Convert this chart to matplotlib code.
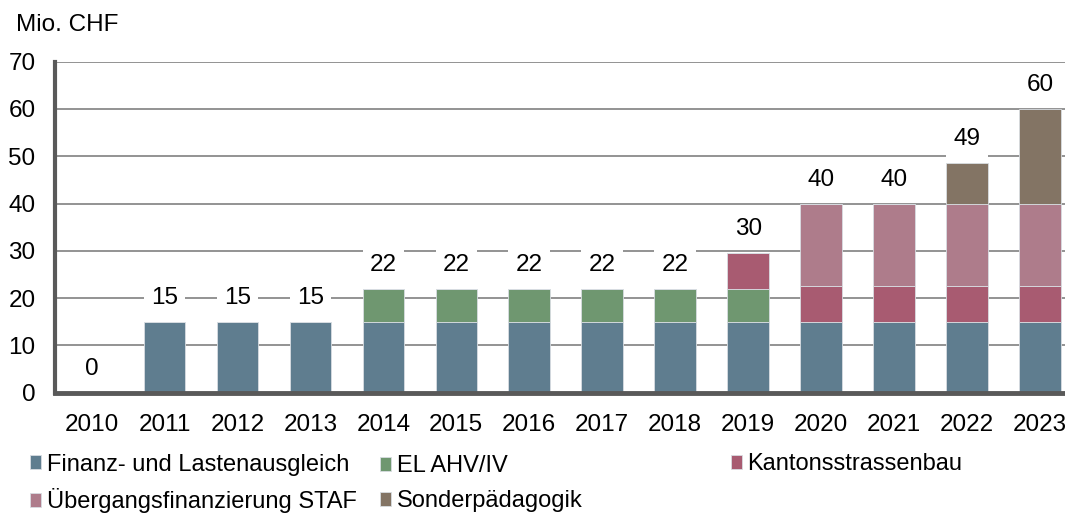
import matplotlib
matplotlib.use("Agg")
import matplotlib.pyplot as plt
import numpy as np

plt.rcParams['font.family'] = ['Liberation Sans', 'DejaVu Sans']

years = ["2010", "2011", "2012", "2013", "2014", "2015", "2016", "2017",
         "2018", "2019", "2020", "2021", "2022", "2023"]
finanz = [0, 15, 15, 15, 15, 15, 15, 15, 15, 15, 15, 15, 15, 15]
el_ahv = [0, 0, 0, 0, 7, 7, 7, 7, 7, 7, 0, 0, 0, 0]
kantons = [0, 0, 0, 0, 0, 0, 0, 0, 0, 7.6, 7.6, 7.6, 7.6, 7.6]
staf = [0, 0, 0, 0, 0, 0, 0, 0, 0, 0, 17.4, 17.4, 17.4, 17.4]
sonder = [0, 0, 0, 0, 0, 0, 0, 0, 0, 0, 0, 0, 8.6, 20.1]

series = [
    ("Finanz- und Lastenausgleich", finanz, "#5F7D8F"),
    ("EL AHV/IV", el_ahv, "#6F9770"),
    ("Kantonsstrassenbau", kantons, "#A85B71"),
    ("Übergangsfinanzierung STAF", staf, "#AE7C8B"),
    ("Sonderpädagogik", sonder, "#837464"),
]

FS = 17.5

fig = plt.figure(figsize=(10.65, 5.14), dpi=100)
ax = fig.add_axes([55 / 1065, (514 - 392.7) / 514, 1021.5 / 1065, 331 / 514])

x = np.arange(len(years))
bottom = np.zeros(len(years))
handles = {}
for name, vals, col in series:
    v = np.array(vals, dtype=float)
    b = ax.bar(x, v, width=0.57, bottom=bottom, color=col, edgecolor="#d8dde2",
               linewidth=0.6, label=name, zorder=2)
    handles[name] = b
    bottom += v

totals = bottom
for xi, t in zip(x, totals):
    ax.annotate(f"{int(round(t))}", (xi, t), xytext=(0, 17), textcoords="offset points",
                ha="center", va="center", fontsize=FS, color="black", zorder=4,
                bbox=dict(boxstyle="square,pad=0.3", fc="white", ec="none"))

ax.set_xlim(-0.5, len(years) - 0.5)
ax.set_ylim(0, 70)
ax.set_yticks(np.arange(0, 71, 10))
ax.set_xticks(x)
ax.set_xticklabels(years)
ax.tick_params(axis="both", length=0, labelsize=FS)
ax.tick_params(axis="y", pad=14)
ax.tick_params(axis="x", pad=15)
ax.yaxis.grid(True, color="#808080", linewidth=1.2, zorder=0)
ax.set_axisbelow(True)
for s in ["top", "right"]:
    ax.spines[s].set_visible(False)
ax.spines["left"].set_color("#595959")
ax.spines["left"].set_linewidth(3)
ax.spines["bottom"].set_color("#595959")
ax.spines["bottom"].set_linewidth(3.5)
ax.spines["left"].set_zorder(5)
ax.spines["bottom"].set_zorder(5)

fig.text(16 / 1065, (514 - 25) / 514, "Mio. CHF", fontsize=FS, ha="left", va="center")

leg_kw = dict(frameon=False, fontsize=17, handlelength=0.45, handleheight=0.55,
              handletextpad=0.25, borderpad=0, borderaxespad=0, labelspacing=0.55,
              loc="center left")
cols = [
    (["Finanz- und Lastenausgleich", "Übergangsfinanzierung STAF"], 30, 483.5),
    (["EL AHV/IV", "Sonderpädagogik"], 380, 483.5),
    (["Kantonsstrassenbau"], 731, 464.5),
]
for names, px, py in cols:
    fig.legend([handles[n] for n in names], names,
               bbox_to_anchor=(px / 1065, (514 - py) / 514), **leg_kw)

fig.savefig("out.png", dpi=100)
